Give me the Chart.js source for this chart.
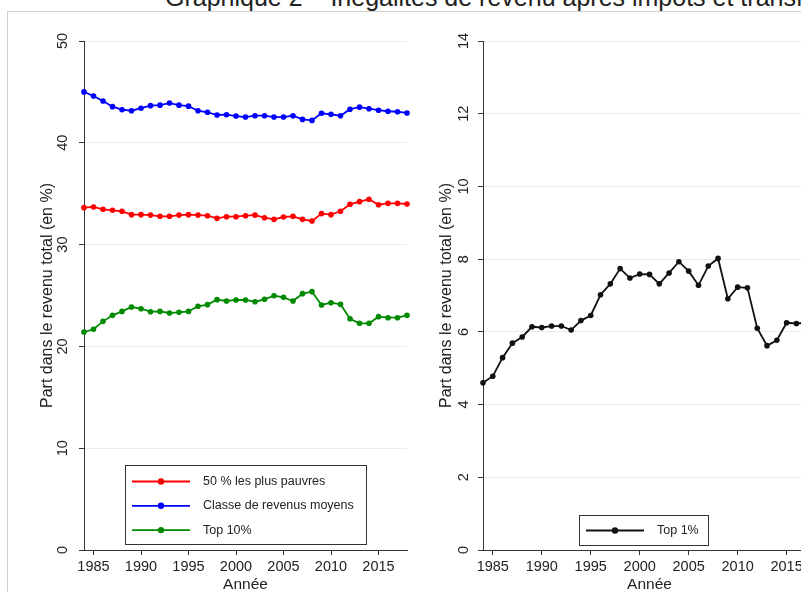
<!DOCTYPE html>
<html lang="fr">
<head>
<meta charset="utf-8">
<title>Graphique 2 – Inégalités de revenu</title>
<script src="https://cdn.jsdelivr.net/npm/chart.js@4.4.1/dist/chart.umd.min.js"></script>
<style>
  html, body { margin: 0; padding: 0; background: #fff; width: 801px; height: 592px; overflow: hidden; }
  #page { position: relative; width: 801px; height: 592px; overflow: hidden; font-family: "Liberation Sans", Arial, sans-serif; }
  #title { position: absolute; left: 165px; top: -15px; font-size: 25px; line-height: 25px; white-space: nowrap; color: #222; }
  #frame { position: absolute; left: 7px; top: 11px; width: 900px; height: 700px; border-top: 1px solid #cfcfcf; border-left: 1px solid #cfcfcf; }
  canvas { position: absolute; top: 0; }
  #left { left: 0; }
  #right { left: 420px; }
</style>
</head>
<body>
<div id="page">
  <div id="title">Graphique 2 – Inégalités de revenu après impôts et transferts</div>
  <div id="frame"></div>
  <canvas id="left" width="420" height="594"></canvas>
  <canvas id="right" width="400" height="594"></canvas>
</div>
<script>
// années et parts du revenu total (en %)
const years = [1984, 1985, 1986, 1987, 1988, 1989, 1990, 1991, 1992, 1993, 1994, 1995,
    1996, 1997, 1998, 1999, 2000, 2001, 2002, 2003, 2004, 2005, 2006, 2007,
    2008, 2009, 2010, 2011, 2012, 2013, 2014, 2015, 2016, 2017, 2018];
const yearTicks = [1985, 1990, 1995, 2000, 2005, 2010, 2015];

const pauvres50 = [33.63, 33.70, 33.47, 33.37, 33.27, 32.94, 32.94, 32.90, 32.78, 32.78, 32.90, 32.94,
    32.90, 32.84, 32.58, 32.74, 32.74, 32.84, 32.90, 32.64, 32.48, 32.71, 32.78, 32.48,
    32.32, 33.04, 32.94, 33.27, 33.96, 34.22, 34.45, 33.92, 34.05, 34.05, 33.99];
const moyens = [45.00, 44.60, 44.10, 43.55, 43.25, 43.15, 43.40, 43.65, 43.70, 43.90, 43.70, 43.60,
    43.15, 43.00, 42.73, 42.76, 42.63, 42.53, 42.66, 42.66, 42.53, 42.53, 42.66, 42.30,
    42.20, 42.90, 42.80, 42.66, 43.30, 43.50, 43.35, 43.20, 43.10, 43.05, 42.93];
const top10 = [21.41, 21.68, 22.46, 23.05, 23.44, 23.87, 23.70, 23.41, 23.44, 23.28, 23.35, 23.44,
    23.94, 24.10, 24.59, 24.46, 24.56, 24.56, 24.39, 24.63, 24.98, 24.82, 24.46, 25.18,
    25.38, 24.07, 24.29, 24.13, 22.72, 22.27, 22.27, 22.92, 22.82, 22.82, 23.05];
const top1 = [4.60, 4.78, 5.29, 5.69, 5.86, 6.14, 6.12, 6.16, 6.16, 6.05, 6.31, 6.45,
    7.02, 7.32, 7.74, 7.48, 7.59, 7.58, 7.32, 7.62, 7.93, 7.67, 7.28, 7.81,
    8.02, 6.91, 7.23, 7.21, 6.10, 5.62, 5.77, 6.25, 6.23, 6.25, 6.50];

const leftTicks = [0, 10, 20, 30, 40, 50];
const rightTicks = [0, 2, 4, 6, 8, 10, 12, 14];

const AXIS = '#333';
const GRID = '#e6eeee';
const TEXT = '#222';
const FONT = '"Liberation Sans", Arial, sans-serif';

function points(values) {
    return years.map((y, i) => ({ x: y, y: values[i] }));
}

function series(label, values, color) {
    return {
        label: label,
        data: points(values),
        borderColor: color,
        backgroundColor: color,
        borderWidth: 1.8,
        pointRadius: 2.8,
        pointBorderWidth: 0,
        pointBackgroundColor: color,
        tension: 0,
        clip: false
    };
}

// légende encadrée à l'intérieur du graphique
const legendBox = {
    id: 'legendBox',
    afterDraw(chart, args, o) {
        const ctx = chart.ctx;
        ctx.save();
        ctx.fillStyle = '#fff';
        ctx.fillRect(o.x, o.y, o.w, o.h);
        ctx.strokeStyle = AXIS;
        ctx.lineWidth = 1;
        ctx.strokeRect(o.x + 0.5, o.y + 0.5, o.w, o.h);
        ctx.font = '12.5px ' + FONT;
        ctx.textBaseline = 'middle';
        chart.data.datasets.forEach((ds, i) => {
            const cy = o.first + i * o.step;
            ctx.strokeStyle = ds.borderColor;
            ctx.lineWidth = 1.8;
            ctx.beginPath();
            ctx.moveTo(o.lineX0, cy);
            ctx.lineTo(o.lineX1, cy);
            ctx.stroke();
            ctx.fillStyle = ds.borderColor;
            ctx.beginPath();
            ctx.arc((o.lineX0 + o.lineX1) / 2, cy, 3.2, 0, Math.PI * 2);
            ctx.fill();
            ctx.fillStyle = TEXT;
            ctx.fillText(ds.label, o.textX, cy);
        });
        ctx.restore();
    }
};

function makeChart(id, datasets, yMax, yStep, yTickList, yWidth, yTickPad, titlePad, padRight, legend) {
    return new Chart(document.getElementById(id).getContext('2d'), {
        type: 'line',
        data: { datasets: datasets },
        plugins: [legendBox],
        options: {
            responsive: false,
            animation: false,
            layout: { padding: { left: 0, top: 41, right: padRight, bottom: 0 } },
            plugins: {
                legend: { display: false },
                tooltip: { enabled: false },
                legendBox: legend
            },
            scales: {
                x: {
                    type: 'linear',
                    min: 1984,
                    max: 2018,
                    afterBuildTicks: s => { s.ticks = yearTicks.map(v => ({ value: v })); },
                    afterFit: s => { s.height = 44; },
                    grid: { drawOnChartArea: false, drawTicks: true, tickLength: 5, tickColor: AXIS, tickWidth: 1 },
                    border: { color: AXIS, width: 1 },
                    ticks: { color: TEXT, font: { family: FONT, size: 14.5 }, padding: 3, maxRotation: 0, callback: v => String(v) },
                    title: { display: true, text: 'Année', color: TEXT, font: { family: FONT, size: 15.5 }, padding: { top: 0, bottom: 0 } }
                },
                y: {
                    min: 0,
                    max: yMax,
                    afterBuildTicks: s => { s.ticks = yTickList.map(v => ({ value: v })); },
                    afterFit: s => { s.width = yWidth; },
                    grid: {
                        color: c => (c.tick && c.tick.value === 0) ? 'rgba(0,0,0,0)' : GRID,
                        lineWidth: 1,
                        drawTicks: true,
                        tickLength: 5,
                        tickColor: AXIS
                    },
                    border: { color: AXIS, width: 1 },
                    ticks: {
                        color: TEXT,
                        font: { family: FONT, size: 14.5 },
                        padding: yTickPad,
                        minRotation: 90,
                        maxRotation: 90,
                        crossAlign: 'center',
                        stepSize: yStep
                    },
                    title: {
                        display: true,
                        text: 'Part dans le revenu total (en %)',
                        color: TEXT,
                        font: { family: FONT, size: 16 },
                        padding: { top: titlePad, bottom: 0 }
                    }
                }
            }
        }
    });
}

makeChart('left', [
    series('50 % les plus pauvres', pauvres50, '#ff0000'),
    series('Classe de revenus moyens', moyens, '#0000ff'),
    series('Top 10%', top10, '#008a00')
], 50, 10, leftTicks, 84, 7.5, 38.4, 13,
    { x: 125, y: 465, w: 241, h: 79, first: 481.5, step: 24.3, lineX0: 132, lineX1: 190, textX: 203 });

makeChart('right', [
    series('Top 1%', top1, '#111111')
], 14, 2, rightTicks, 63, 5.7, 17.4, 0,
    { x: 159, y: 515, w: 129, h: 30, first: 530.5, step: 24, lineX0: 166, lineX1: 224, textX: 237 });
</script>
</body>
</html>
